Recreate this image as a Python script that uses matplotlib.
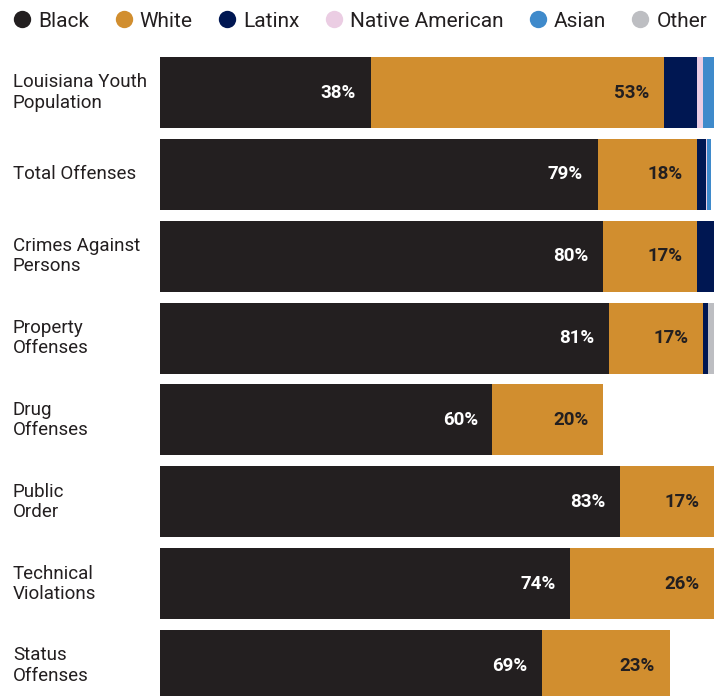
import numpy as np
import matplotlib
matplotlib.use("Agg")
import matplotlib.pyplot as plt
from matplotlib.lines import Line2D
from matplotlib import transforms

plt.rcParams['font.family'] = ['Roboto', 'DejaVu Sans']

categories = ["Louisiana Youth\nPopulation", "Total Offenses", "Crimes Against\nPersons",
              "Property\nOffenses", "Drug\nOffenses", "Public\nOrder",
              "Technical\nViolations", "Status\nOffenses"]
groups = ["Black", "White", "Latinx", "Native American", "Asian", "Other"]

black = [38, 79, 80, 81, 60, 83, 74, 69]
white = [53, 18, 17, 17, 20, 17, 26, 23]
latinx = [6, 1.5, 3, 1, 0, 0, 0, 0]
native = [1, 0.3, 0, 0, 0, 0, 0, 0]
asian = [2, 0.6, 0, 0, 0, 0, 0, 0]
other = [0, 0, 0, 1, 0, 0, 0, 0]

colors = ["#231f20", "#d18e2f", "#001752", "#ebcde3", "#3f8acb", "#bdbec2"]
series = [black, white, latinx, native, asian, other]

fig = plt.figure(figsize=(7.23, 6.96), dpi=100)
ax = fig.add_axes([160 / 723, 0, 554 / 723, 1])
ax.set_xlim(0, 100)
ax.set_ylim(7.372, -1.13)
ax.axis('off')

y = np.arange(len(categories))
left = np.zeros(len(categories))
for vals, col in zip(series, colors):
    vals = np.array(vals, dtype=float)
    ax.barh(y, vals, left=left, height=0.867, color=col, linewidth=0)
    left += vals

# percentage labels on the two big segments
for i in y:
    ax.annotate(f"{black[i]}%", (black[i], i), xytext=(-10.5, 0), textcoords='offset points',
                ha='right', va='center', color='white', fontsize=13.5, fontweight='bold')
    ax.annotate(f"{white[i]}%", (black[i] + white[i], i), xytext=(-10.5, 0),
                textcoords='offset points', ha='right', va='center', color='#231f20',
                fontsize=13.5, fontweight='bold')

trans = transforms.blended_transform_factory(fig.transFigure, ax.transData)
for i, lab in enumerate(categories):
    ax.text(13 / 723, i, lab, transform=trans, ha='left', va='center',
            fontsize=13.5, color='#231f20', linespacing=1.15)

handles = [Line2D([], [], marker='o', linestyle='', markersize=12.5, color=c,
                  markeredgewidth=0) for c in colors]
fig.legend(handles, groups, loc='upper left', bbox_to_anchor=(0.0, 1.0), ncol=6,
           frameon=False, fontsize=15, handletextpad=0.27, columnspacing=1.15,
           handlelength=1.0, borderaxespad=0.26, borderpad=0.3, labelcolor='#231f20')

fig.savefig("out.png", dpi=100)
